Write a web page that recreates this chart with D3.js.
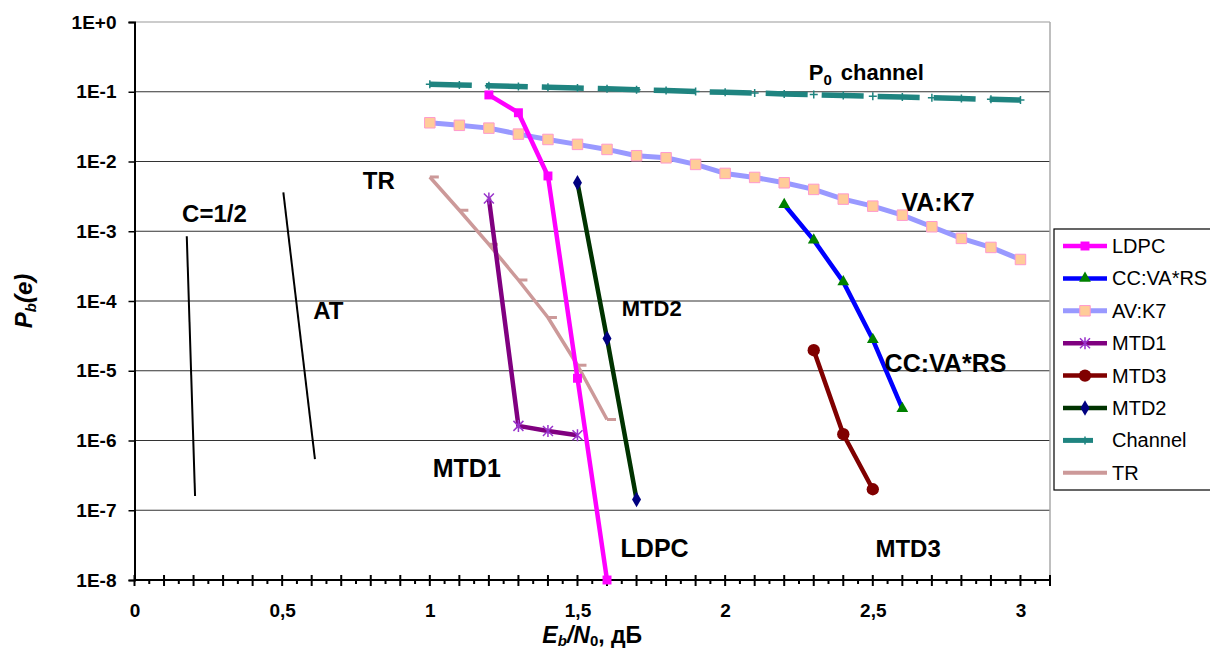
<!DOCTYPE html>
<html><head><meta charset="utf-8">
<script src="https://cdn.jsdelivr.net/npm/d3@7"></script>
<style>body{margin:0;background:#fff}svg{display:block}text{font-family:"Liberation Sans",Arial,sans-serif}</style>
</head><body>
<svg id="c" width="1210" height="652"></svg>
<script>
// ---- data ----
const ldpcX = [1.2, 1.3, 1.4, 1.5, 1.6];
const ldpcY = [0.09, 0.05, 0.0062, 7.8e-6, 1e-8];
const ccX = [2.2, 2.3, 2.4, 2.5, 2.6];
const ccY = [2.42e-3, 7.45e-4, 1.88e-4, 2.8e-5, 2.87e-6];
const avX = [1.0,1.1,1.2,1.3,1.4,1.5,1.6,1.7,1.8,1.9,2.0,2.1,2.2,2.3,2.4,2.5,2.6,2.7,2.8,2.9,3.0];
const avY = [0.0359,0.033,0.0301,0.0247,0.0207,0.0176,0.0149,0.0121,0.0113,0.00908,0.00675,0.00591,0.00495,0.00398,0.00289,0.00229,0.0017,0.00116,0.00079,0.000586,0.000394];
const mtd1X = [1.2, 1.3, 1.4, 1.5];
const mtd1Y = [2.95e-3, 1.62e-6, 1.37e-6, 1.19e-6];
const mtd3X = [2.3, 2.4, 2.5];
const mtd3Y = [1.97e-5, 1.23e-6, 2e-7];
const mtd2X = [1.5, 1.6, 1.7];
const mtd2Y = [4.95e-3, 2.9e-5, 1.43e-7];
const chX = [1.0,1.1,1.2,1.3,1.4,1.5,1.6,1.7,1.8,1.9,2.0,2.1,2.2,2.3,2.4,2.5,2.6,2.7,2.8,2.9,3.0];
const chY = [0.128,0.125,0.122,0.119,0.116,0.113,0.11,0.107,0.104,0.101,0.098,0.096,0.093,0.091,0.088,0.086,0.084,0.082,0.080,0.078,0.076];
const trX = [1.0, 1.1, 1.2, 1.3, 1.4, 1.5, 1.6];
const trY = [6e-3, 2e-3, 6.5e-4, 2e-4, 5.8e-5, 1.2e-5, 2e-6];
const halfX = [0.177, 0.205];
const halfY = [8.5e-4, 1.6e-7];
const atX = [0.504, 0.611];
const atY = [3.6e-3, 5.4e-7];
const yTickVals = [1,1e-1,1e-2,1e-3,1e-4,1e-5,1e-6,1e-7,1e-8];
const yTickLabels = ["1E+0","1E-1","1E-2","1E-3","1E-4","1E-5","1E-6","1E-7","1E-8"];
const xLabelVals = [0, 0.5, 1, 1.5, 2, 2.5, 3];
const xLabelTexts = ["0","0,5","1","1,5","2","2,5","3"];
const legendNames = ["LDPC","CC:VA*RS","AV:K7","MTD1","MTD3","MTD2","Channel","TR"];
const annTexts = ["C=1/2","AT","TR","MTD1","MTD2","LDPC","MTD3","CC:VA*RS","VA:K7"];
const annX = [0.161, 0.605, 0.773, 1.010, 1.650, 1.646, 2.509, 2.540, 2.597];
const annY = [1.35e-3, 5.48e-5, 4.02e-3, 2.97e-7, 6.05e-5, 2.11e-8, 2.11e-8, 9.5e-6, 1.94e-3];
const annSize = [24, 24, 24, 25, 22, 25, 24, 25, 25];

// ---- layout ----
const svg = d3.select("#c");
const L = 134.5, R = 1050, T = 22, B = 580;
const x = d3.scaleLinear().domain([0, 3.1]).range([L, R]);
const y = d3.scaleLog().domain([1e-8, 1]).range([B, T]);

// gridlines
svg.append("g").selectAll("line").data(yTickVals).join("line")
  .attr("x1", L).attr("x2", R).attr("y1", d => y(d)).attr("y2", d => y(d))
  .attr("stroke", d => d === 1 ? "#999" : "#333").attr("stroke-width", 1.2);
// right border
svg.append("line").attr("x1", R).attr("x2", R).attr("y1", T).attr("y2", B)
  .attr("stroke", "#aaa").attr("stroke-width", 1.5);

// y axis
const yAxis = d3.axisLeft(y).tickValues(yTickVals).tickFormat((d, i) => yTickLabels[i]).tickSize(6).tickPadding(12);
const gy = svg.append("g").attr("transform", `translate(${L},0)`).call(yAxis);
gy.select(".domain").attr("stroke", "#000").attr("stroke-width", 2);
gy.selectAll(".tick line").attr("stroke", "#000").attr("stroke-width", 1.5);
gy.selectAll(".tick text").attr("font-size", 19).attr("font-weight", "bold").attr("fill", "#000")
  .attr("font-family", '"Liberation Sans",Arial,sans-serif');

// x axis
const majors = d3.range(0, 32).map(i => i / 10);
const minors = d3.range(0, 31).map(i => i / 10 + 0.05);
const gx = svg.append("g").attr("transform", `translate(0,${B})`);
gx.append("line").attr("x1", L).attr("x2", R).attr("stroke", "#000").attr("stroke-width", 2);
gx.selectAll("line.maj").data(majors).join("line").attr("class", "maj")
  .attr("x1", d => x(d)).attr("x2", d => x(d)).attr("y1", -5).attr("y2", 6)
  .attr("stroke", "#000").attr("stroke-width", 2);
gx.selectAll("line.min").data(minors).join("line").attr("class", "min")
  .attr("x1", d => x(d)).attr("x2", d => x(d)).attr("y1", 0).attr("y2", 4)
  .attr("stroke", "#000").attr("stroke-width", 2);
const xAxis = d3.axisBottom(x).tickValues(xLabelVals).tickFormat((d, i) => xLabelTexts[i]).tickSize(0).tickPadding(24);
const gx2 = svg.append("g").attr("transform", `translate(0,${B})`).call(xAxis);
gx2.select(".domain").remove();
gx2.selectAll(".tick text").attr("font-size", 19).attr("font-weight", "bold").attr("fill", "#000")
  .attr("font-family", '"Liberation Sans",Arial,sans-serif');

// axis titles
const xt = svg.append("text").attr("x", (L + R) / 2).attr("y", 643).attr("text-anchor", "middle")
  .attr("font-size", 23).attr("font-weight", "bold");
xt.append("tspan").attr("font-style", "italic").text("E");
xt.append("tspan").attr("font-style", "italic").attr("font-size", 15).attr("dy", 3).text("b");
xt.append("tspan").attr("font-style", "italic").attr("dy", -3).text("/N");
xt.append("tspan").attr("font-size", 15).attr("dy", 3).text("0");
xt.append("tspan").attr("dy", -3).text(", дБ");

const yt = svg.append("text").attr("transform", `translate(32,${(T + B) / 2}) rotate(-90)`)
  .attr("text-anchor", "middle").attr("font-size", 24).attr("font-weight", "bold").attr("font-style", "italic");
yt.append("tspan").text("P");
yt.append("tspan").attr("font-size", 15).attr("dy", 4).text("b");
yt.append("tspan").attr("dy", -4).text("(e)");

// ---- series ----
const line = d3.line().x(d => x(d[0])).y(d => y(d[1]));
const zip = (a, b) => a.map((v, i) => [v, b[i]]);
const plot = svg.append("g");

function drawLine(data, color, w, dash) {
  const p = plot.append("path").datum(data).attr("d", line).attr("fill", "none")
    .attr("stroke", color).attr("stroke-width", w).attr("stroke-linejoin", "round");
  if (dash) p.attr("stroke-dasharray", dash);
  return p;
}
function drawSymbols(g, data, type, size, fill, stroke, sw) {
  g.selectAll(null).data(data).join("path")
    .attr("transform", d => `translate(${x(d[0])},${y(d[1])})`)
    .attr("d", d3.symbol().type(type).size(size))
    .attr("fill", fill).attr("stroke", stroke || "none").attr("stroke-width", sw || 0);
}
const starPath = "M-5,-5L5,5M-5,5L5,-5M0,-6L0,6";
const plusPath = "M-4,0L4,0M0,-4L0,4";

// C=1/2 and AT black lines
drawLine(zip(halfX, halfY), "#000", 2);
drawLine(zip(atX, atY), "#000", 2);

// Channel
const chData = zip(chX, chY);
drawLine(chData, "#1f8480", 5.5, "42,14");
plot.append("g").selectAll("path").data(chData).join("path")
  .attr("transform", d => `translate(${x(d[0])},${y(d[1])})`).attr("d", plusPath)
  .attr("stroke", "#1f8480").attr("stroke-width", 1.5);

// AV:K7
const avData = zip(avX, avY);
drawLine(avData, "#9999ff", 5);
drawSymbols(plot.append("g"), avData, d3.symbolSquare, 110, "#ffcc99", "#ff99cc", 1);

// TR
const trData = zip(trX, trY);
drawLine(trData, "#cc9999", 3.5);
plot.append("g").selectAll("path").data(trData).join("path")
  .attr("transform", d => `translate(${x(d[0])},${y(d[1])})`).attr("d", "M0,0L9,0")
  .attr("stroke", "#cc9999").attr("stroke-width", 3);

// MTD1
const m1 = zip(mtd1X, mtd1Y);
drawLine(m1, "#800080", 4.5);
plot.append("g").selectAll("path").data(m1).join("path")
  .attr("transform", d => `translate(${x(d[0])},${y(d[1])})`).attr("d", starPath)
  .attr("stroke", "#9933cc").attr("stroke-width", 1.5);

// MTD2
const m2 = zip(mtd2X, mtd2Y);
drawLine(m2, "#003300", 4.5);
drawSymbols(plot.append("g"), m2, d3.symbolDiamond, 70, "#000080");

// CC:VA*RS
const cc = zip(ccX, ccY);
drawLine(cc, "#0000ff", 4.5);
drawSymbols(plot.append("g"), cc, d3.symbolTriangle, 60, "#008000");

// MTD3
const m3 = zip(mtd3X, mtd3Y);
drawLine(m3, "#800000", 4.5);
drawSymbols(plot.append("g"), m3, d3.symbolCircle, 120, "#800000");

// LDPC
const ld = zip(ldpcX, ldpcY);
drawLine(ld, "#ff00ff", 4.5);
drawSymbols(plot.append("g"), ld, d3.symbolSquare, 80, "#ff00ff");

// ---- annotations ----
svg.append("g").selectAll("text").data(annTexts).join("text")
  .attr("x", (d, i) => x(annX[i])).attr("y", (d, i) => y(annY[i]))
  .attr("font-size", (d, i) => annSize[i]).attr("font-weight", "bold").attr("fill", "#000")
  .text(d => d);
const p0 = svg.append("text").attr("x", x(2.283)).attr("y", y(0.147)).attr("font-size", 22).attr("font-weight", "bold");
p0.append("tspan").text("P");
p0.append("tspan").attr("font-size", 15).attr("dy", 5).text("0");
p0.append("tspan").attr("dy", -5).attr("dx", 9).text("channel");

// ---- legend ----
const lg = svg.append("g");
lg.append("rect").attr("x", 1054).attr("y", 229).attr("width", 170).attr("height", 261)
  .attr("fill", "#fff").attr("stroke", "#000").attr("stroke-width", 1.2);
const lStyles = [
  {c: "#ff00ff", w: 4.5}, {c: "#0000ff", w: 4.5}, {c: "#9999ff", w: 5}, {c: "#800080", w: 4.5},
  {c: "#800000", w: 4.5}, {c: "#003300", w: 4.5}, {c: "#1f8480", w: 5}, {c: "#cc9999", w: 4}
];
const items = lg.selectAll("g").data(legendNames).join("g")
  .attr("transform", (d, i) => `translate(0,${246 + i * 32.4})`);
items.append("line").attr("x1", 1063).attr("x2", (d, i) => i === 6 ? 1093 : 1107)
  .attr("stroke", (d, i) => lStyles[i].c).attr("stroke-width", (d, i) => lStyles[i].w);
items.append("text").attr("x", 1112).attr("y", 7).attr("font-size", 20).attr("fill", "#000").text(d => d);
const mk = (i) => items.filter((d, j) => j === i).append("path").attr("transform", "translate(1085,0)");
mk(0).attr("d", d3.symbol().type(d3.symbolSquare).size(80)).attr("fill", "#ff00ff");
mk(1).attr("d", d3.symbol().type(d3.symbolTriangle).size(60)).attr("fill", "#008000");
mk(2).attr("d", d3.symbol().type(d3.symbolSquare).size(110)).attr("fill", "#ffcc99").attr("stroke", "#ff99cc");
mk(3).attr("d", starPath).attr("stroke", "#9933cc").attr("stroke-width", 1.5);
mk(4).attr("d", d3.symbol().type(d3.symbolCircle).size(120)).attr("fill", "#800000");
mk(5).attr("d", d3.symbol().type(d3.symbolDiamond).size(70)).attr("fill", "#000080");
mk(6).attr("d", plusPath).attr("stroke", "#1f8480").attr("stroke-width", 1.5);
</script>
</body></html>
